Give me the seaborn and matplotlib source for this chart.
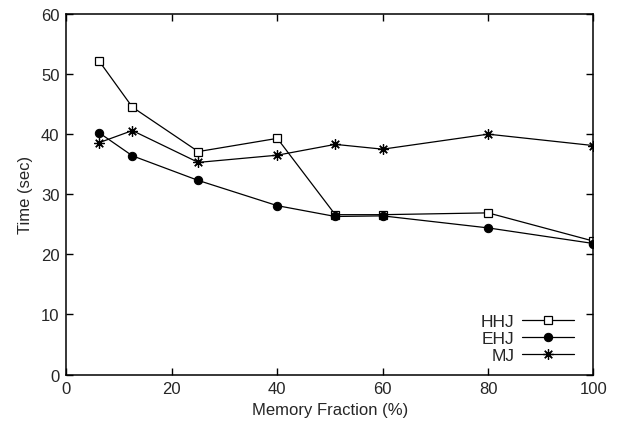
import pandas as pd
import numpy as np
import seaborn as sns
import matplotlib
matplotlib.use('Agg')
import matplotlib.pyplot as plt

# Values
memory_fraction = [6.25, 12.5, 25, 40, 51, 60, 80, 100]
hhj_time = [52.1, 44.5, 37.1, 39.3, 26.6, 26.6, 26.9, 22.2]
ehj_time = [40.2, 36.4, 32.3, 28.1, 26.3, 26.4, 24.4, 21.8]
mj_time = [38.6, 40.6, 35.3, 36.5, 38.3, 37.5, 40.0, 38.1]

sns.set_theme(style="ticks")
plt.rcParams['font.family'] = ['Liberation Sans', 'DejaVu Sans']
plt.rcParams['xtick.direction'] = 'in'
plt.rcParams['ytick.direction'] = 'in'
plt.rcParams['xtick.top'] = True
plt.rcParams['ytick.right'] = True

fig = plt.figure(figsize=(6.19, 4.27), dpi=100)
ax = fig.add_axes([0.1074, 0.1206, 0.8514, 0.8443])

line_kw = dict(color='black', linewidth=0.9)
sns.lineplot(x=memory_fraction, y=hhj_time, ax=ax, marker='s', markersize=6, markerfacecolor='white',
             markeredgecolor='black', markeredgewidth=0.9, label='HHJ', **line_kw)
sns.lineplot(x=memory_fraction, y=ehj_time, ax=ax, marker='o', markersize=6, markerfacecolor='black',
             markeredgecolor='black', label='EHJ', **line_kw)
sns.lineplot(x=memory_fraction, y=mj_time, ax=ax, marker=(8, 2, 0), markersize=7.5,
             markeredgecolor='black', markeredgewidth=0.9, label='MJ', **line_kw)

ax.set_xlim(0, 100)
ax.set_ylim(0, 60)
ax.set_xticks(range(0, 101, 20))
ax.set_yticks(range(0, 61, 10))
ax.tick_params(axis='both', which='major', labelsize=12, length=5, width=1, color='black', pad=5)
for s in ax.spines.values():
    s.set_linewidth(1.1)
    s.set_color('black')
    s.set_visible(True)

ax.set_xlabel('Memory Fraction (%)', fontsize=12, labelpad=4)
ax.set_ylabel('Time (sec)', fontsize=12, labelpad=6)

leg = ax.legend(loc='lower right', bbox_to_anchor=(0.985, 0.0), frameon=False, fontsize=12.5,
                markerfirst=False, handlelength=3.0, handletextpad=0.45, labelspacing=0.1,
                borderaxespad=0.25)

fig.savefig('out.png', dpi=100)
